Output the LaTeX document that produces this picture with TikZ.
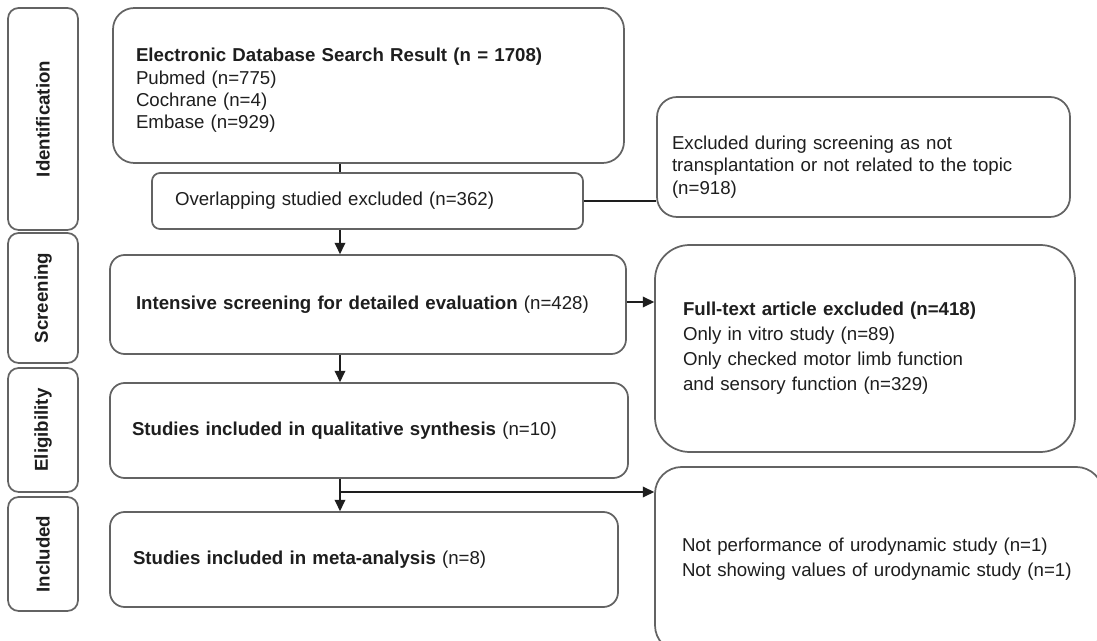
\documentclass[tikz,border=0pt]{standalone}
\usepackage{fontspec}
\setmainfont{Liberation Sans}
\usetikzlibrary{arrows.meta}
\definecolor{boxline}{HTML}{636363}
\definecolor{ink}{HTML}{1E1E1E}
\begin{document}
\begin{tikzpicture}[x=0.75pt,y=-0.75pt,
  font=\fontsize{14}{18.75}\selectfont,
  every node/.style={text=ink},
  box/.style={draw=boxline, line width=1.3pt, align=left, inner ysep=0pt},
  phase/.style={draw=boxline, line width=1.3pt, rounded corners=8pt, minimum height=52.5pt, rotate=90, inner sep=0pt, font=\fontsize{14}{16}\selectfont\bfseries},
  conn/.style={draw=ink, line width=1.2pt},
  arr/.style={conn, -{Triangle[length=8.5pt,width=8pt]}}
]
\useasboundingbox (0,0) rectangle (1097,641);
\fill[white] (0,0) rectangle (1097,641);
\clip (0,0) rectangle (1097,641);

% phase labels
\node[phase, minimum width=166.5pt] (ph1) at (43,119) {Identification};
\node[phase, minimum width=97.5pt] (ph2) at (43,298) {Screening};
\node[phase, minimum width=93pt] (ph3) at (43,430) {Eligibility};
\node[phase, minimum width=85.5pt] (ph4) at (43,554) {Included};

% main column
\node[box, rounded corners=16pt, minimum width=383.25pt, minimum height=116.25pt, inner xsep=17.25pt, text width=348.75pt,
  font=\fontsize{14}{16.75}\selectfont, text height=17.8pt] (top) at (368.5,85.5)
  {\textbf{Electronic Database Search Result (n = 1708)}\\Pubmed (n=775)\\Cochrane (n=4)\\Embase (n=929)};
\node[box, rounded corners=6pt, minimum width=323.25pt, minimum height=42pt, inner xsep=17.25pt, text width=288.75pt] (ovl) at (367.5,201)
  {Overlapping studied excluded (n=362)};
\node[box, rounded corners=11pt, minimum width=387pt, minimum height=74.25pt, inner xsep=19.5pt, text width=348pt] (scr) at (368,304.5)
  {\textbf{Intensive screening for detailed evaluation} (n=428)};
\node[box, rounded corners=11pt, minimum width=388.5pt, minimum height=71.25pt, inner xsep=16.5pt, text width=355.5pt] (elig) at (369,430.5)
  {\textbf{Studies included in qualitative synthesis} (n=10)};
\node[box, rounded corners=11pt, minimum width=381pt, minimum height=71.25pt, inner xsep=17.25pt, text width=346.5pt] (incl) at (364,559.5)
  {\textbf{Studies included in meta-analysis} (n=8)};

% right column
\node[box, rounded corners=15pt, minimum width=309.75pt, minimum height=90pt, inner xsep=11.25pt, text width=287.25pt,
  font=\fontsize{14}{17}\selectfont, text height=25pt] (ex1) at (863.5,157)
  {Excluded during screening as not\\transplantation or not related to the topic\\(n=918)};
\node[box, rounded corners=26pt, minimum width=315pt, minimum height=155.25pt, inner xsep=21pt, text width=273pt] (ex2) at (865,348.5)
  {\textbf{Full-text article excluded (n=418)}\\Only in vitro study (n=89)\\Only checked motor limb function\\and sensory function (n=329)};
\node[box, rounded corners=20pt, minimum width=336pt, minimum height=138.75pt, inner xsep=20.25pt, text width=295.5pt] (ex3) at (879,559.5)
  {Not performance of urodynamic study (n=1)\\Not showing values of urodynamic study (n=1)};

% connectors
\coordinate (sp) at (340,0);
\coordinate (hy2) at (0,302);
\coordinate (br) at (340,492);
\draw[conn] (top.south -| sp) -- (ovl.north -| sp);
\draw[conn] (ovl.east) -- (ovl.east -| ex1.west);
\draw[arr] (ovl.south -| sp) -- (scr.north -| sp);
\draw[arr] (hy2 -| scr.east) -- (hy2 -| ex2.west);
\draw[arr] (scr.south -| sp) -- (elig.north -| sp);
\draw[arr] (elig.south -| sp) -- (incl.north -| sp);
\draw[arr] (br) -- (br -| ex3.west);
\end{tikzpicture}
\end{document}
